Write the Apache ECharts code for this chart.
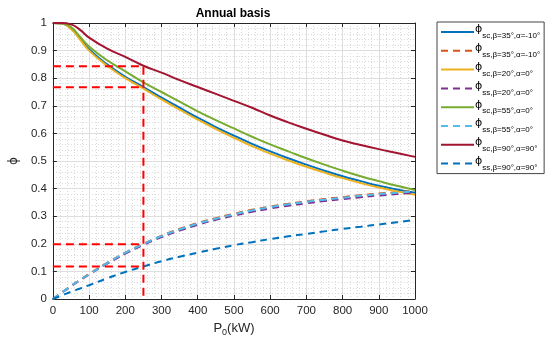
<!DOCTYPE html>
<html><head><meta charset="utf-8">
<script src="https://cdn.jsdelivr.net/npm/echarts@6/dist/echarts.min.js"></script>
<style>html,body{margin:0;padding:0;background:#fff}#c{width:550px;height:345px}</style>
</head><body><div id="c"></div>
<script>
const P = [0,25,50,75,100,150,200,250,300,350,400,450,500,550,600,650,700,750,800,850,900,950,1000];
const scBlue  = [1,0.998,0.98,0.945,0.905,0.85,0.805,0.768,0.73,0.693,0.657,0.623,0.592,0.562,0.535,0.51,0.487,0.465,0.445,0.427,0.41,0.397,0.385];
const ssOrange= [0,0.024,0.047,0.069,0.091,0.131,0.168,0.2,0.229,0.254,0.275,0.293,0.309,0.323,0.335,0.345,0.354,0.362,0.369,0.376,0.382,0.387,0.392];
const scYellow= [1,0.998,0.978,0.94,0.9,0.845,0.8,0.762,0.723,0.686,0.65,0.616,0.584,0.554,0.527,0.502,0.479,0.458,0.438,0.42,0.404,0.39,0.378];
const ssPurple= [0,0.023,0.046,0.068,0.089,0.128,0.164,0.196,0.224,0.248,0.269,0.287,0.302,0.316,0.328,0.338,0.347,0.355,0.362,0.369,0.375,0.38,0.385];
const scGreen = [1,0.998,0.985,0.95,0.915,0.865,0.825,0.785,0.75,0.715,0.68,0.648,0.618,0.588,0.56,0.535,0.51,0.487,0.465,0.445,0.427,0.41,0.395];
const ssLight = [0,0.024,0.047,0.069,0.09,0.13,0.167,0.199,0.228,0.252,0.273,0.291,0.307,0.321,0.333,0.343,0.352,0.36,0.367,0.374,0.38,0.385,0.39];
const scRed   = [1,1,0.995,0.975,0.947,0.907,0.877,0.845,0.82,0.793,0.768,0.743,0.718,0.693,0.665,0.64,0.617,0.595,0.574,0.558,0.543,0.529,0.515];
const ssBlue  = [0,0.013,0.026,0.038,0.05,0.075,0.098,0.118,0.137,0.153,0.168,0.182,0.195,0.206,0.217,0.227,0.236,0.245,0.254,0.262,0.27,0.278,0.287];
const legendSubs = ['sc,β=35°,α=-10°','ss,β=35°,α=-10°','sc,β=20°,α=0°','ss,β=20°,α=0°','sc,β=55°,α=0°','ss,β=55°,α=0°','sc,β=90°,α=90°','ss,β=90°,α=90°'];
const refH = [0.843,0.767,0.198,0.118];
const refX = 250;

const seriesData = [scBlue, ssOrange, scYellow, ssPurple, scGreen, ssLight, scRed, ssBlue];
const colors = ['#0072BD','#D95319','#EDB120','#7E2F8E','#77AC30','#4DBEEE','#A2142F','#0072BD'];
const dashed = [false,true,false,true,false,true,false,true];

const series = seriesData.map((d,i)=>({
  name: 'S'+i, type:'line', smooth:true, symbol:'none', z: 3,
  data: d.map((v,j)=>[P[j], v]),
  lineStyle:{color:colors[i], width:2, type: dashed[i]?[7,5]:'solid'},
  itemStyle:{color:colors[i]}
}));
const refSeries = [];
refSeries.push({type:'line', symbol:'none', silent:true, z:4,
  data:[[0,refH[0]],[refX,refH[0]],[refX,0]],
  lineStyle:{color:'#ff0000', width:2, type:[8,5]}});
for (let k=1;k<refH.length;k++){
  refSeries.push({type:'line', symbol:'none', silent:true, z:4,
    data:[[0,refH[k]],[refX,refH[k]]],
    lineStyle:{color:'#ff0000', width:2, type:[8,5]}});
}

const chart = echarts.init(document.getElementById('c'), null, {renderer:'canvas'});
const axCol = '#262626';
const FF = 'Liberation Sans, Arial';
chart.setOption({
  animation:false,
  title:{text:'Annual basis', left:228, top:3, textAlign:'center',
    textStyle:{fontFamily:FF, fontSize:12, fontWeight:'bold', color:'#000'}},
  grid:{left:41, right:135, top:23, bottom:46},
  legend:{
    orient:'vertical', left:437, top:22,
    data: series.map(s=>s.name),
    borderColor:'#444', borderWidth:1, padding:[2,4,2,3],
    itemWidth:33, itemHeight:10, itemGap:2.8,
    itemStyle:{opacity:0},
    formatter: name => '{p|ϕ}{s|' + legendSubs[+name.slice(1)] + '}',
    textStyle:{fontFamily:FF, color:'#000', padding:[0,0,0,-4],
      rich:{p:{fontSize:11, fontFamily:'DejaVu Sans', lineHeight:16, verticalAlign:'top'},
            s:{fontSize:8, fontFamily:FF, lineHeight:16, verticalAlign:'bottom'}}}
  },
  xAxis:[{
    type:'value', min:0, max:1000, interval:100,
    name:'{a|P}{b|0}{a|(kW)}', nameLocation:'middle', nameGap:20,
    nameTextStyle:{rich:{a:{fontSize:13, fontFamily:FF, color:axCol}, b:{fontSize:9, fontFamily:FF, color:axCol, padding:[8,0,0,0]}}},
    axisLine:{onZero:false, lineStyle:{color:axCol}},
    axisTick:{inside:true, length:4, lineStyle:{color:axCol}},
    axisLabel:{color:axCol, fontSize:11.5, fontFamily:FF, margin:6, formatter: v => String(v)},
    splitLine:{show:true, lineStyle:{color:'#dedede', width:1}},
    minorTick:{show:false, splitNumber:5},
    minorSplitLine:{show:true, lineStyle:{color:'#d8d8d8', width:1, type:[1,2]}}
  },{
    type:'value', position:'top', min:0, max:1000, interval:100,
    axisLine:{onZero:false, lineStyle:{color:axCol}},
    axisTick:{inside:true, length:4, lineStyle:{color:axCol}},
    axisLabel:{show:false}, splitLine:{show:false}
  }],
  yAxis:[{
    type:'value', min:0, max:1, interval:0.1,
    name:'ϕ', nameLocation:'middle', nameGap:29, nameRotate:90,
    nameTextStyle:{fontSize:12, fontFamily:'DejaVu Sans', color:axCol},
    axisLine:{show:true, onZero:false, lineStyle:{color:axCol}},
    axisTick:{show:true, inside:true, length:4, lineStyle:{color:axCol}},
    axisLabel:{color:axCol, fontSize:11.5, fontFamily:FF, margin:6,
      formatter: v => String(Math.round(v*10)/10)},
    splitLine:{show:true, lineStyle:{color:'#dedede', width:1}},
    minorTick:{show:false, splitNumber:5},
    minorSplitLine:{show:true, lineStyle:{color:'#d8d8d8', width:1, type:[1,2]}}
  },{
    type:'value', position:'right', min:0, max:1, interval:0.1,
    axisLine:{show:true, onZero:false, lineStyle:{color:axCol}},
    axisTick:{show:true, inside:true, length:4, lineStyle:{color:axCol}},
    axisLabel:{show:false}, splitLine:{show:false}
  }],
  series: series.concat(refSeries)
});
</script></body></html>
